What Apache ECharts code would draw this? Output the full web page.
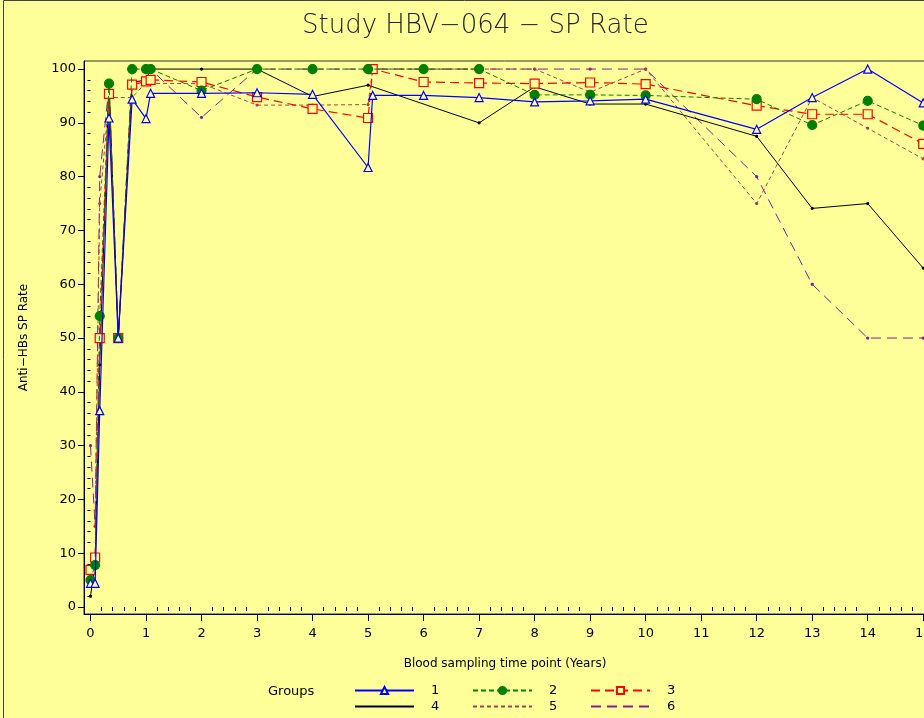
<!DOCTYPE html>
<html>
<head>
<meta charset="utf-8">
<script src="https://cdn.jsdelivr.net/npm/echarts@6/dist/echarts.min.js"></script>
<style>
html,body{margin:0;padding:0;background:#ffff99;}
#c{width:924px;height:718px;}
</style>
</head>
<body>
<div id="c"></div>
<script>
// Time points in years
const years = [0, 1/12, 2/12, 4/12, 0.5, 0.75, 1, 13/12, 2, 3, 4, 5, 61/12, 6, 7, 8, 9, 10, 12, 13, 14, 15];
const group1 = [4.4, 4.4, 36.5, 90.9, 50, 94.4, 90.8, 95.5, 95.5, 95.6, 95.3, 81.7, 95.1, 95.1, 94.7, 93.9, 94.1, 94.4, 88.8, 94.7, 100, 93.7];
const group2 = [5.0, 7.8, 54.1, 97.3, 50, 100, 100, 100, 96.0, 100, 100, 100, null, 100, 100, 95.2, 95.2, 95.1, 94.4, 89.6, 94.1, 89.5];
const group3 = [6.9, 9.2, 50, 95.4, 50, 97.1, 97.7, 98.0, 97.6, 94.8, 92.6, 90.9, 100, 97.6, 97.4, 97.3, 97.5, 97.2, 93.2, 91.6, 91.6, 86.1];
const group4 = [2.0, 8, 45, 97.8, 50, 97.5, 98, 100, 100, 100, 94.9, 97.0, null, null, 90.0, 96.7, 93.5, 93.5, 87.5, 74.1, 75.0, 63.0];
const group5 = [null, 15, 75, 94.7, null, 94.7, 97.5, 97.3, 97.3, 93.3, 93.3, 93.4, 100, 100, 100, 100, 95.7, 100, 75.0, 94.7, 89.0, 83.3];
const group6 = [30, 15, 80, 97.0, 50, 100, 100, 100, 91.0, 100, 100, 100, 100, 100, 100, 100, 100, 100, 80, 60, 50, 50];
const groupNames = ['1', '2', '3', '4', '5', '6'];
const xTickLabels = [0,1,2,3,4,5,6,7,8,9,10,11,12,13,14,15];
const yTickLabels = [0,10,20,30,40,50,60,70,80,90,100];

function pairs(vals){
  const out = [];
  vals.forEach((v,i)=>{ if(v!==null) out.push([years[i], v]); });
  return out;
}
const xMinor = [];
for(let i=0;i<15;i++){ for(let k=1;k<5;k++){ xMinor.push(i + k*0.2); } }
const yMinor = [];
for(let i=0;i<100;i+=10){ for(let k=1;k<5;k++){ yMinor.push(i + k*2); } }

const FONT = 'DejaVu Sans';
const XMIN = -0.117, XMAX = 15.05, YMIN = -1.3, YMAX = 101.5;

const chart = echarts.init(document.getElementById('c'));

const styles = [
  {color:'#0000ff', type:'solid', symbol:'triangle', size:8, fill:'#ffff99', width:1.2},
  {color:'#008000', type:[5,3], symbol:'circle', size:9, fill:'#008000', width:1},
  {color:'#ff0000', type:[9,5], symbol:'rect', size:9, fill:'#ffff99', width:1.2},
  {color:'#000000', type:'solid', symbol:'circle', size:2, fill:'#000000', width:1},
  {color:'#a8404a', type:[4,3], symbol:'circle', size:2, fill:'#a8404a', width:1},
  {color:'#8a1a9a', type:[10,6], symbol:'circle', size:2, fill:'#8a1a9a', width:1}
];
const data = [group1, group2, group3, group4, group5, group6];

const series = data.map((g, i) => ({
  name: groupNames[i],
  type: 'line',
  xAxisIndex: 0, yAxisIndex: 0,
  data: pairs(g),
  symbol: styles[i].symbol,
  symbolSize: styles[i].size,
  z: 10 - i,
  lineStyle: {color: styles[i].color, type: styles[i].type, width: styles[i].width},
  itemStyle: {color: styles[i].fill, borderColor: styles[i].color, borderWidth: 1.2},
  emphasis: {disabled: true},
  animation: false
}));

const legendPos = [[354,684],[472,684],[590,684],[354,700],[472,700],[590,700]];
const legends = groupNames.map((n,i)=>({
  data: [i < 3 ? {name: n} : {name: n, itemStyle: {opacity: 0}}],
  left: legendPos[i][0], top: legendPos[i][1],
  itemWidth: 59, itemHeight: 9,
  padding: 0,
  textStyle: {fontFamily: FONT, fontSize: 13, color:'#000', padding:[0,0,0,12]},
  selectedMode: false
}));

chart.setOption({
  backgroundColor: '#ffff99',
  animation: false,
  title: {
    text: 'Study HBV\u2212064 \u2212 SP Rate',
    left: 297, top: 8,
    textStyle: {fontFamily: FONT, fontSize: 26, fontWeight: 200, color: '#222'}
  },
  graphic: [
    {type:'text', left: 268, top: 685, style:{text:'Groups', font:'13px "DejaVu Sans"', fill:'#000'}},
    {type:'rect', shape:{x:3.5, y:0.5, width:1000, height:1000}, style:{fill:'none', stroke:'#444', lineWidth:1}, silent:true}
  ],
  legend: legends,
  grid: {left: 84, right: -2, top: 61, bottom: 104, show: true, borderColor: '#333', borderWidth: 1, backgroundColor: 'transparent', outerBoundsMode: 'none', containLabel: false},
  xAxis: [{
    type: 'value', min: XMIN, max: XMAX,
    name: 'Blood sampling time point (Years)', nameLocation: 'middle', nameGap: 44,
    nameTextStyle: {fontFamily: FONT, fontSize: 12, color: '#000'},
    axisLine: {show: true, onZero: false, lineStyle: {color: '#000'}},
    axisTick: {show: true, length: 7, customValues: xTickLabels, lineStyle:{color:'#000'}},
    axisLabel: {customValues: xTickLabels, fontFamily: FONT, fontSize: 13, color: '#000', margin: 13, hideOverlap: false},
    splitLine: {show: false}
  },{
    type: 'value', min: XMIN, max: XMAX, position: 'bottom',
    axisLine: {show: false},
    axisTick: {show: true, length: 4, customValues: xMinor, lineStyle:{color:'#000'}},
    axisLabel: {show: false, customValues: xMinor},
    splitLine: {show: false}
  }],
  yAxis: [{
    type: 'value', min: YMIN, max: YMAX,
    name: 'Anti\u2212HBs SP Rate', nameLocation: 'middle', nameGap: 54, nameRotate: 90,
    nameTextStyle: {fontFamily: FONT, fontSize: 12, color: '#000'},
    axisLine: {show: true, onZero: false, lineStyle: {color: '#000'}},
    axisTick: {show: true, length: 6, customValues: yTickLabels, lineStyle:{color:'#000'}},
    axisLabel: {customValues: yTickLabels, fontFamily: FONT, fontSize: 13, color: '#000', margin: 8},
    splitLine: {show: false}
  },{
    type: 'value', min: YMIN, max: YMAX, position: 'left', offset: 0,
    axisLine: {show: false},
    axisTick: {show: true, length: 3, customValues: yMinor, lineStyle:{color:'#000'}},
    axisLabel: {show: false, customValues: yMinor},
    splitLine: {show: false}
  }],
  series: series
});
</script>
</body>
</html>
